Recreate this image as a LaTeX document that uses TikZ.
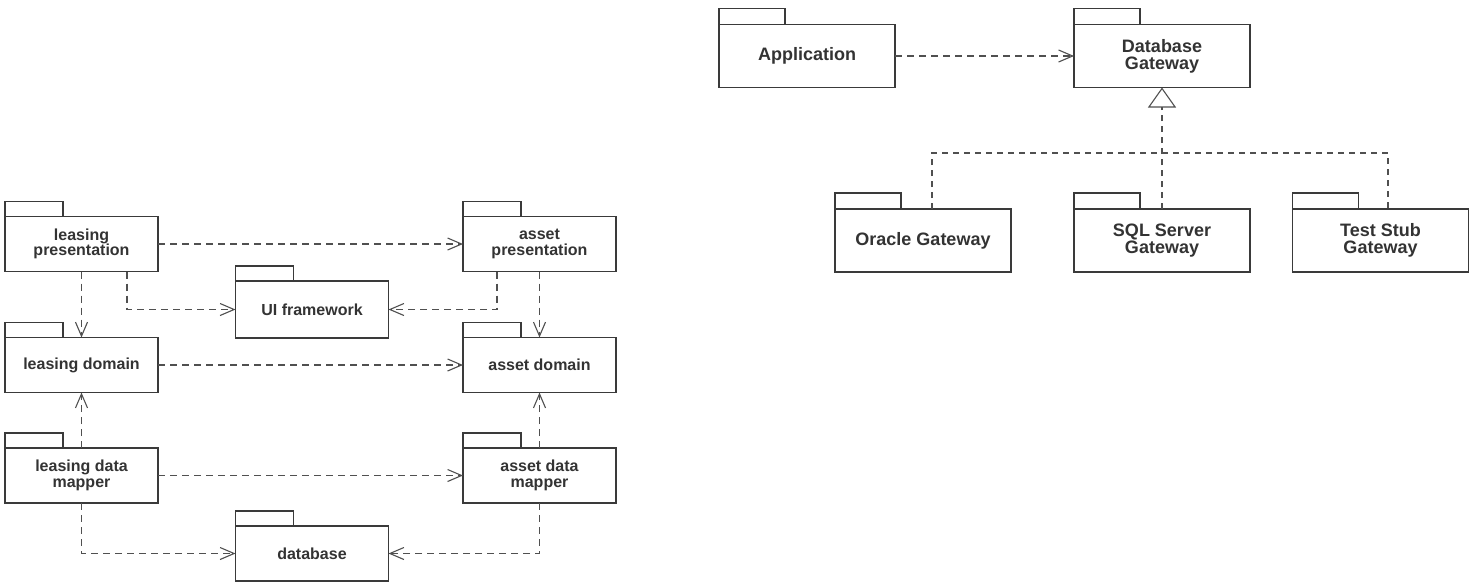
\documentclass[tikz,border=0pt]{standalone}
\usepackage{fontspec}
\setmainfont{Liberation Sans}
\usetikzlibrary{arrows.meta}
\definecolor{pkgline}{HTML}{3A3A3A}
\definecolor{pkgtext}{HTML}{333333}
\definecolor{depline}{HTML}{505050}

\begin{document}
\begin{tikzpicture}[x=1pt,y=-1pt,
  pkg/.style={draw=pkgline,line width=1.2pt,outer sep=0pt,minimum width=153pt,minimum height=55pt,inner sep=2pt,align=center,text=pkgtext,font=\fontsize{16}{15.5}\selectfont\bfseries},
  pkgwide/.style={pkg,minimum width=176pt,minimum height=63pt,font=\fontsize{18}{17}\selectfont\bfseries},
  tab/.style={draw=pkgline,line width=1.2pt},
  dep/.style={draw=depline,line width=1.1pt,dash pattern=on 7pt off 5pt,-{Straight Barb[length=14pt,width=12pt,line width=1.1pt]}},
  realize/.style={draw=depline,line width=1.1pt,dash pattern=on 6pt off 5pt}]
  \useasboundingbox (0,0) rectangle (1477,587);

  % leasing / asset layers
  \node[pkg] (lp) at (81.5,244) {leasing\\presentation};
  \node[pkg] (ap) at (539.5,244) {asset\\presentation};
  \node[pkg,minimum height=57pt] (ui) at (312,309.5) {UI framework};
  \node[pkg] (ld) at (81.5,365) {leasing domain};
  \node[pkg] (ad) at (539.5,365) {asset domain};
  \node[pkg] (ldm) at (81.5,475.5) {leasing data\\mapper};
  \node[pkg] (adm) at (539.5,475.5) {asset data\\mapper};
  \node[pkg] (db) at (312,553.5) {database};
  \foreach \n in {lp,ap,ui,ld,ad,ldm,adm,db}
    \draw[tab] (\n.north west) rectangle ++(58,-15);

  \draw[dep] (lp) -- (ap);
  \draw[dep] (lp) -- (ld);
  \draw[dep] ([xshift=45.5]lp.south) |- (ui.west);
  \draw[dep] ([xshift=-42.5]ap.south) |- (ui.east);
  \draw[dep] (ap) -- (ad);
  \draw[dep] (ld) -- (ad);
  \draw[dep] (ldm) -- (ld);
  \draw[dep] (adm) -- (ad);
  \draw[dep] (ldm) -- (adm);
  \draw[dep] (ldm.south) |- (db.west);
  \draw[dep] (adm.south) |- (db.east);

  % gateways
  \node[pkgwide] (app) at (807,56) {Application};
  \node[pkgwide] (dg) at (1162,56) {Database\\Gateway};
  \node[pkgwide] (og) at (923,240.5) {Oracle Gateway};
  \node[pkgwide] (sg) at (1162,240.5) {SQL Server\\Gateway};
  \node[pkgwide] (tg) at (1380.5,240.5) {Test Stub\\Gateway};
  \foreach \n in {app,dg,og,sg,tg}
    \draw[tab] (\n.north west) rectangle ++(66,-16);

  \draw[dep] (app) -- (dg);
  \coordinate (bus) at (1162,153);
  \draw[realize,-{Triangle[open,length=20pt,width=28pt,fill=white,line width=1.1pt]}] (sg) -- (dg);
  \draw[realize] ([xshift=9]og.north) |- (bus) -| ([xshift=7.5]tg.north);
\end{tikzpicture}
\end{document}
